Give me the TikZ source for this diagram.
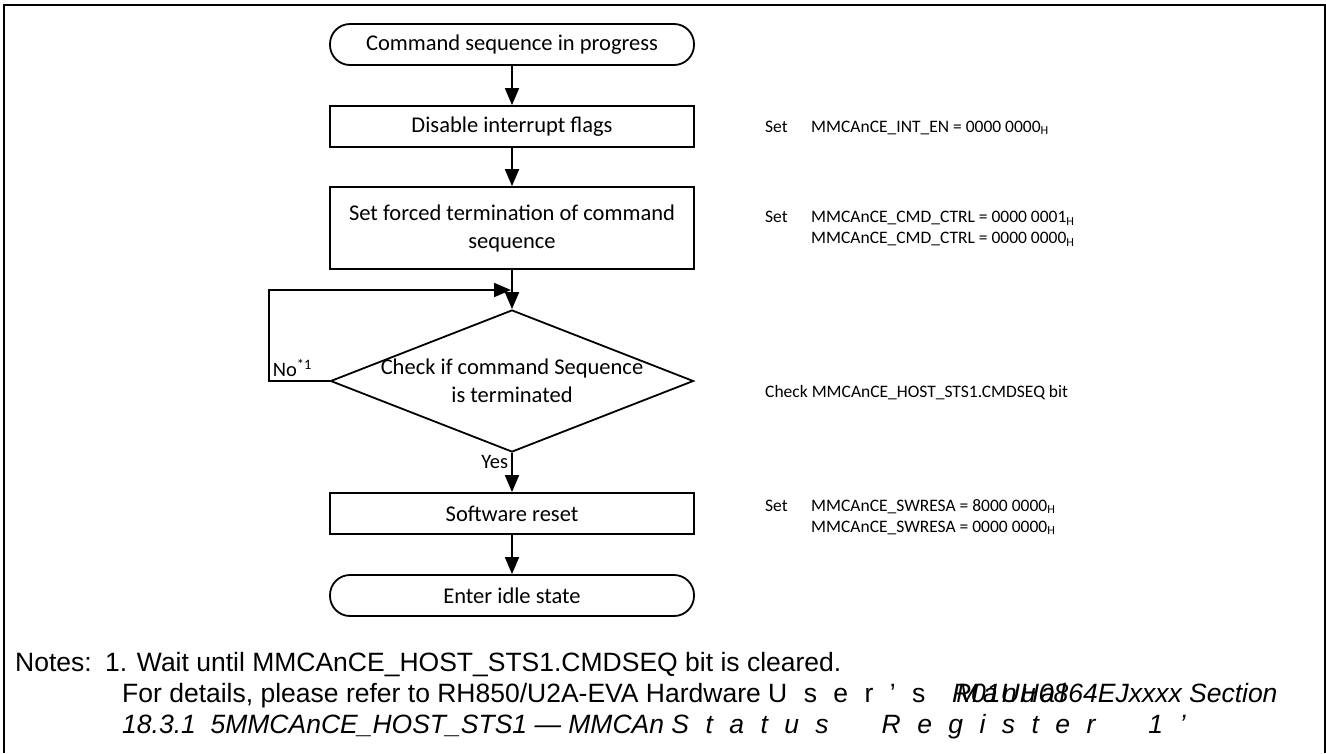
\documentclass[tikz,border=0pt]{standalone}
\usepackage{fontspec}
\setmainfont{Carlito}
\newfontfamily\notefont{Liberation Sans}
\usetikzlibrary{arrows.meta,shapes.geometric}
\tikzset{
  fc_node/.style = {align=center, inner sep=0pt, line width=1.8pt,
    font=\fontsize{22.5}{28}\selectfont},
  fc_term/.style = {fc_node, draw, rounded corners=20pt,
    minimum width=364pt, minimum height=41pt},% start / end
  fc_box/.style = {fc_node, draw, rectangle,
    minimum width=364pt, minimum height=41pt},% process step
  fc_dec/.style = {fc_node, draw, diamond,
    minimum width=363pt, minimum height=142pt},% decision
  fc_lbl/.style = {inner sep=3pt, font=\fontsize{20.5}{24}\selectfont},
  fc_side/.style = {anchor=west, inner sep=0pt, align=left,
    font=\fontsize{17.5}{21}\selectfont},% register notes on the right
  fc_note/.style = {anchor=west, inner sep=0pt,
    font=\notefont\fontsize{26.5}{31}\selectfont},
  fc_arrow/.style = {line width=1.8pt, -{Triangle[length=17pt,width=14pt]}}
}
\newcommand{\setcol}[1]{\makebox[46pt][l]{#1}}
\newcommand{\lsp}{\hspace{0.62em}}

\begin{document}
\begin{tikzpicture}[x=1pt,y=-1pt]
\useasboundingbox (0,0) rectangle (1326,753);
\draw[line width=2pt] (4,753) -- (4,5) -- (1325,5) -- (1325,753);

\node[fc_term] (start) at (512,44.5) {Command sequence in progress};
\node[fc_box] (disable) at (512,126.5) {Disable interrupt flags};
\node[fc_box, minimum height=82pt] (force) at (512,228)
  {Set forced termination of command\\sequence};
\node[fc_dec] (check) at (512,381) {};
\node[fc_node] (check_txt) at (512,381) {Check if command Sequence\\is terminated};
\node[fc_box] (reset) at (512,513.5) {Software reset};
\node[fc_term] (idle) at (512,595.5) {Enter idle state};

\coordinate (loop_b) at (269,381);
\coordinate (loop_t) at (269,290);
\coordinate (loop_e) at (511,290);

\draw[fc_arrow] (start) -- (disable);
\draw[fc_arrow] (disable) -- (force);
\draw[fc_arrow] (force) -- (check);
\draw[fc_arrow] (check.west) -- (loop_b)
  node[fc_lbl, above right] {No\textsuperscript{*1}} -- (loop_t) -- (loop_e);
\draw[fc_arrow] (check.south) -- node[fc_lbl, left, pos=0.22] {Yes} (reset);
\draw[fc_arrow] (reset) -- (idle);

\node[fc_side] (side_int) at (765,128)
  {\setcol{Set}MMCAnCE\_INT\_EN = 0000 0000\textsubscript{H}};
\node[fc_side] (side_cmd) at (765,229)
  {\setcol{Set}MMCAnCE\_CMD\_CTRL = 0000 0001\textsubscript{H}\\
   \setcol{}MMCAnCE\_CMD\_CTRL = 0000 0000\textsubscript{H}};
\node[fc_side] (side_chk) at (765,393) {Check MMCAnCE\_HOST\_STS1.CMDSEQ bit};
\node[fc_side] (side_rst) at (765,517)
  {\setcol{Set}MMCAnCE\_SWRESA = 8000 0000\textsubscript{H}\\
   \setcol{}MMCAnCE\_SWRESA = 0000 0000\textsubscript{H}};

% notes
\node[fc_note] (note1) at (15,665)
  {Notes:\enspace 1. Wait until MMCAnCE\_HOST\_STS1.CMDSEQ bit is cleared.};
\node[fc_note] (note2) at (122,696)
  {For details, please refer to RH850/U2A-EVA Hardware
   U\lsp s\lsp e\lsp r\lsp ’\lsp s\quad
   \rlap{\textit{\,M\,a\,n\,u\,a\,l}}\textit{R01UH0864EJxxxx Section}};
\node[fc_note] (note3) at (122,727)
  {\textit{18.3.1\ \ 5MMCAnCE\_HOST\_STS1 — MMCAn
   S\lsp t\lsp a\lsp t\lsp u\lsp s\qquad
   R\lsp e\lsp g\lsp i\lsp s\lsp t\lsp e\lsp r\qquad 1\lsp ’}};
\end{tikzpicture}
\end{document}
